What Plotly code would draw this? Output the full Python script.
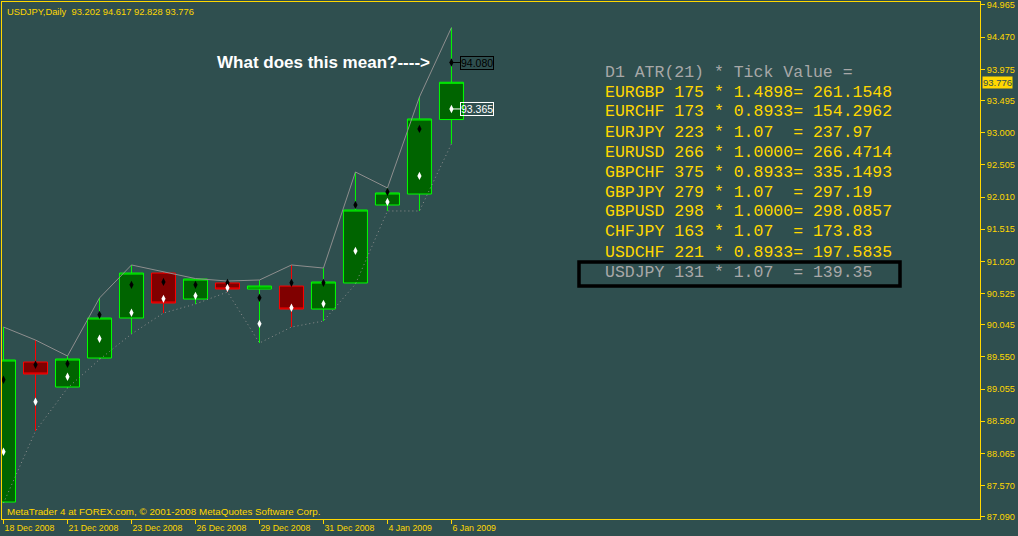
import plotly.graph_objects as go

# ---------------- data ----------------
dates = ["18 Dec 2008", "19 Dec 2008", "21 Dec 2008", "22 Dec 2008", "23 Dec 2008",
         "24 Dec 2008", "26 Dec 2008", "28 Dec 2008", "29 Dec 2008", "30 Dec 2008",
         "31 Dec 2008", "2 Jan 2009", "4 Jan 2009", "5 Jan 2009", "6 Jan 2009"]
opens = [87.316, 89.471, 89.086, 89.532, 90.148, 90.840, 90.440, 90.687, 90.594, 90.640,
         90.286, 90.687, 91.887, 92.056, 93.202]
highs = [90.009, 89.809, 89.563, 90.456, 90.964, 90.856, 90.755, 90.717, 90.733, 90.964,
         90.917, 92.395, 92.149, 93.549, 94.617]
lows = [87.300, 88.409, 89.070, 89.510, 89.902, 90.225, 90.363, 90.548, 89.763, 90.009,
        90.102, 90.670, 91.795, 91.795, 92.828]
closes = [89.502, 89.286, 89.517, 90.148, 90.840, 90.379, 90.748, 90.594, 90.640, 90.286,
          90.702, 91.810, 92.072, 93.211, 93.776]
black_marks = [89.197, 89.428, 89.443, 90.197, 90.658, 90.704, 90.658, 90.689, 90.458, 90.689,
               90.689, 91.889, 92.089, 93.058, 94.080]
white_marks = [88.090, 88.859, 89.243, 89.828, 90.228, 90.443, 90.489, 90.612, 90.058, 90.305,
               90.366, 91.181, 91.935, 92.335, 93.365]

ytick_vals = [94.965, 94.470, 93.975, 93.495, 93.000, 92.505, 92.010, 91.515, 91.020,
              90.525, 90.045, 89.550, 89.055, 88.560, 88.065, 87.570, 87.090]
xtick_every = 2

symbol = "USDJPY"
timeframe = "Daily"

pairs = ["EURGBP", "EURCHF", "EURJPY", "EURUSD", "GBPCHF", "GBPJPY", "GBPUSD", "CHFJPY", "USDCHF", "USDJPY"]
atr_points = [175, 173, 223, 266, 375, 279, 298, 163, 221, 131]
tick_values = ["1.4898", "0.8933", "1.07", "1.0000", "0.8933", "1.07", "1.0000", "1.07", "0.8933", "1.07"]
results = ["261.1548", "154.2962", "237.97", "266.4714", "335.1493", "297.19", "298.0857", "173.83", "197.5835", "139.35"]

# ---------------- styling ----------------
BG = "#2F4F4F"
GOLD = "#FFD700"
GRAY = "#A8A8A8"
LINE_GRAY = "#8E8E8E"
W, H = 1018, 536
ML, MR, MT, MB = 2, 38, 2, 17
PW, PH = W - ML - MR, H - MT - MB
FAM = "Liberation Sans"

def px_x(px):
    return (px - ML) / PW

def px_y(py):
    return 1 - (py - MT) / PH

x = list(range(len(dates)))

fig = go.Figure()
fig.add_trace(go.Candlestick(
    x=x, open=opens, high=highs, low=lows, close=closes,
    increasing=dict(line=dict(color="#00FF00", width=1), fillcolor="#006400"),
    decreasing=dict(line=dict(color="#FF0000", width=1), fillcolor="#800000"),
    whiskerwidth=0, hoverinfo="skip", showlegend=False))

fig.add_trace(go.Scatter(x=x, y=highs, mode="lines",
                         line=dict(color=LINE_GRAY, width=1), hoverinfo="skip", showlegend=False))
fig.add_trace(go.Scatter(x=x, y=lows, mode="lines",
                         line=dict(color=LINE_GRAY, width=1, dash="1px,3px"), hoverinfo="skip", showlegend=False))
fig.add_trace(go.Scatter(x=x, y=black_marks, mode="markers",
                         marker=dict(symbol="diamond-tall", size=6, color="black"),
                         hoverinfo="skip", showlegend=False))
fig.add_trace(go.Scatter(x=x, y=white_marks, mode="markers",
                         marker=dict(symbol="diamond-tall", size=6, color="white"),
                         hoverinfo="skip", showlegend=False))

annotations = []
# title
annotations.append(dict(xref="paper", yref="paper", x=px_x(5), y=px_y(11), xanchor="left", yanchor="middle",
                        text=f"{symbol},{timeframe}\u00a0\u00a0{opens[-1]:.3f} {highs[-1]:.3f} {lows[-1]:.3f} {closes[-1]:.3f}",
                        showarrow=False, font=dict(family=FAM, size=9.4, color=GOLD)))
# copyright
annotations.append(dict(xref="paper", yref="paper", x=px_x(5), y=px_y(511), xanchor="left", yanchor="middle",
                        text="MetaTrader 4 at FOREX.com, © 2001-2008 MetaQuotes Software Corp.",
                        showarrow=False, font=dict(family=FAM, size=9.8, color=GOLD)))
# question
annotations.append(dict(xref="paper", yref="paper", x=px_x(215), y=px_y(63), xanchor="left", yanchor="middle",
                        text="<b>What does this mean?----></b>", showarrow=False,
                        font=dict(family=FAM, size=17, color="white")))
# last bar indicator labels
annotations.append(dict(x=x[-1], y=black_marks[-1], text=f"{black_marks[-1]:.3f}", showarrow=True,
                        arrowhead=0, arrowwidth=1, arrowcolor="black", ax=26, ay=0,
                        bordercolor="black", borderwidth=1, borderpad=0,
                        font=dict(family=FAM, size=10.5, color="black")))
annotations.append(dict(x=x[-1], y=white_marks[-1], text=f"{white_marks[-1]:.3f}", showarrow=True,
                        arrowhead=0, arrowwidth=1, arrowcolor="white", ax=26, ay=0,
                        bordercolor="white", borderwidth=1, borderpad=0,
                        font=dict(family=FAM, size=10.5, color="white")))
# current price label on the axis
annotations.append(dict(xref="paper", yref="y", x=1, y=closes[-1], xanchor="left", yanchor="middle",
                        xshift=2, text=f"{closes[-1]:.3f}", showarrow=False, bgcolor=GOLD, borderpad=0,
                        font=dict(family=FAM, size=9.5, color=BG)))

# ATR panel
def nb(s):
    return s.replace(" ", "\u00a0")

panel_lines = [("D1 ATR(21) * Tick Value =", GRAY)]
for i, p in enumerate(pairs):
    s = f"{p} {atr_points[i]} * {tick_values[i]:<6}= {results[i]}"
    panel_lines.append((s, GRAY if p == symbol else GOLD))
for k, (s, c) in enumerate(panel_lines):
    annotations.append(dict(xref="paper", yref="paper", x=px_x(603), y=px_y(72 + 20 * k),
                            xanchor="left", yanchor="middle", text=nb(s), showarrow=False,
                            font=dict(family="Liberation Mono", size=16.5, color=c)))

shapes = [dict(type="rect", xref="paper", yref="paper",
               x0=px_x(579), x1=px_x(900), y0=px_y(286), y1=px_y(262),
               line=dict(color="black", width=3.5))]

fig.update_layout(
    width=W, height=H, margin=dict(l=ML, r=MR, t=MT, b=MB, autoexpand=False),
    paper_bgcolor=BG, plot_bgcolor=BG,
    boxgap=0.25, boxgroupgap=0,
    annotations=annotations, shapes=shapes,
    showlegend=False, hovermode=False,
    xaxis=dict(range=[-0.047, 30.52], showgrid=False, zeroline=False, rangeslider=dict(visible=False),
               tickvals=x[::xtick_every], ticktext=dates[::xtick_every], tickangle=0, automargin=False,
               ticks="outside", ticklen=4, tickcolor=GOLD, ticklabelposition="outside right",
               ticklabeloverflow="allow",
               showline=True, linecolor=GOLD, linewidth=1, mirror=True,
               tickfont=dict(family=FAM, size=8.8, color=GOLD)),
    yaxis=dict(range=[87.055, 95.011], side="right", showgrid=False, zeroline=False, automargin=False,
               tickvals=ytick_vals, ticktext=[f"{v:.3f}" for v in ytick_vals],
               ticks="outside", ticklen=4, tickcolor=GOLD, ticklabeloverflow="allow",
               showline=True, linecolor=GOLD, linewidth=1, mirror=True,
               tickfont=dict(family=FAM, size=9.2, color=GOLD)),
)

fig.write_html("out.html", config={"displayModeBar": False},
               post_script="document.body.style.margin='0';")
